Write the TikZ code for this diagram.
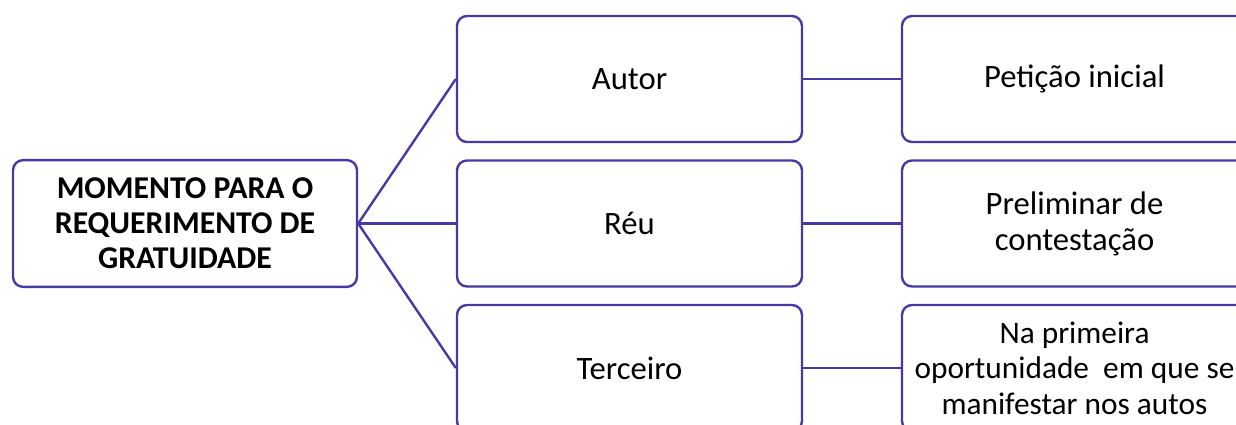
\documentclass[tikz,border=0pt]{standalone}
\usepackage{fontspec}
\setmainfont{Carlito}
\definecolor{lineblue}{RGB}{72,58,165}
\tikzset{
  box/.style={draw=lineblue, line width=1.8pt, rounded corners=7.5pt, fill=white,
    minimum width=258.75pt, minimum height=94.5pt, inner sep=0pt, align=center,
    font=\fontsize{24.5}{27}\selectfont, text=black},
  rootbox/.style={box, minimum width=258pt, minimum height=95pt,
    font=\fontsize{23.8}{26.25}\selectfont\bfseries},
  link/.style={draw=lineblue, line width=1.8pt}
}
\begin{document}
\begin{tikzpicture}[x=0.75pt, y=-0.75pt]
\useasboundingbox (0,0) rectangle (1236,425);
\clip (0,0) rectangle (1236,425);
\node[rootbox] (root) at (185,223.5) {MOMENTO PARA O\\REQUERIMENTO DE\\GRATUIDADE};
\node[box] (autor) at (629.5,79) {Autor};
\node[box] (reu) at (629.5,223.5) {Réu};
\node[box] (terc) at (629.5,368) {Terceiro};
\node[box] (pet) at (1074.5,79) {Petição inicial};
\node[box] (prel) at (1074.5,223.5) {Preliminar de\\contestação};
\node[box, font=\fontsize{23.5}{26.5}\selectfont] (prim) at (1074.5,368) {Na primeira\\oportunidade\ \ em que se\\manifestar nos autos};
\draw[link] (root.east) -- (autor.west);
\draw[link] (root.east) -- (reu.west);
\draw[link] (root.east) -- (terc.west);
\draw[link] (autor.east) -- (pet.west);
\draw[link] (reu.east) -- (prel.west);
\draw[link] (terc.east) -- (prim.west);
\end{tikzpicture}
\end{document}
